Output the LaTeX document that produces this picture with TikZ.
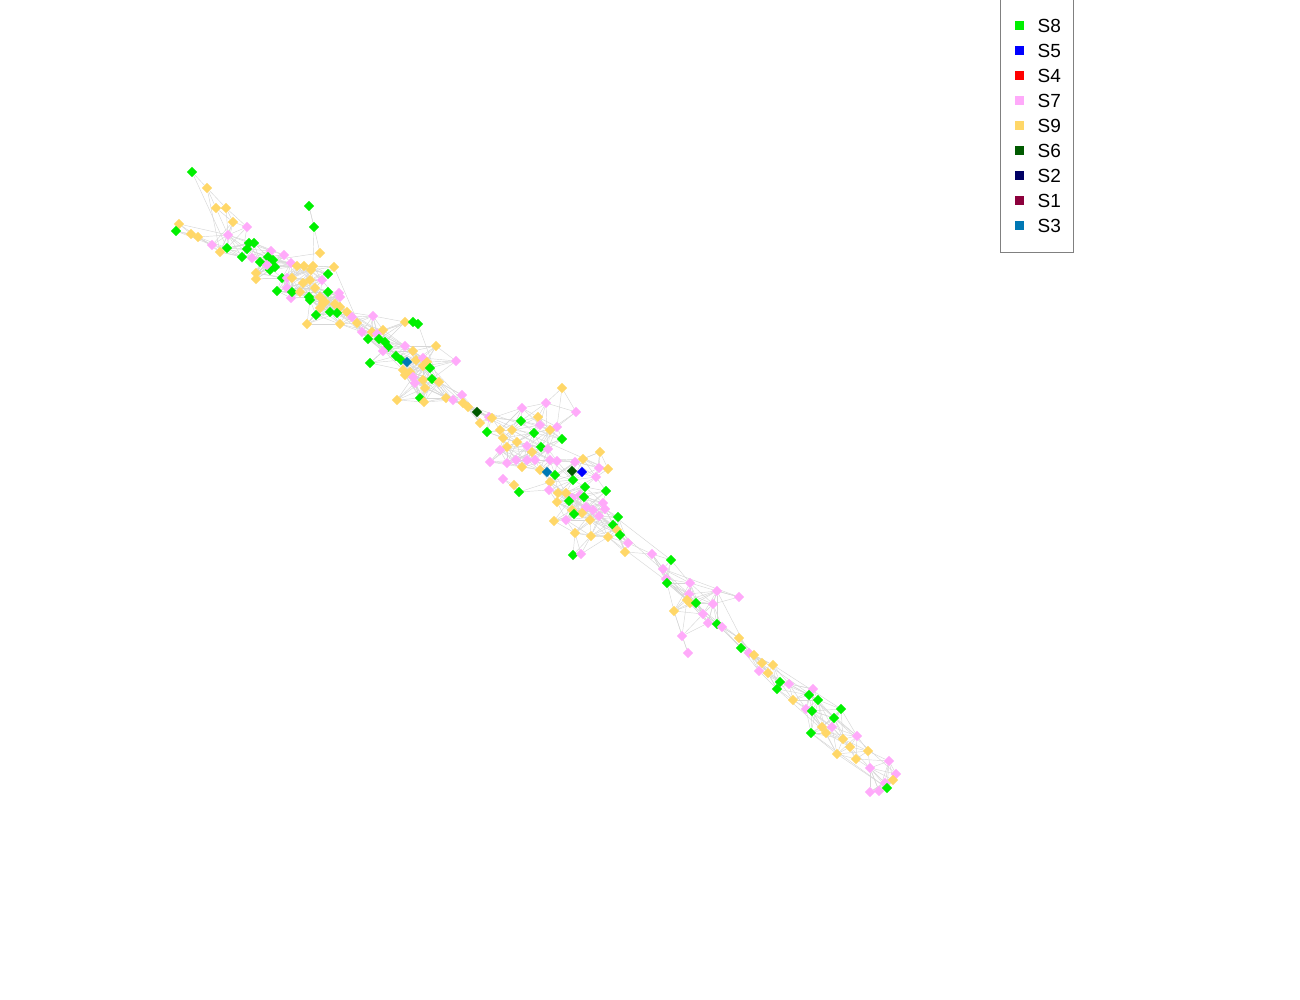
\documentclass[tikz,border=0pt]{standalone}
\usepackage{fontspec}
\setmainfont{Liberation Sans}
\usetikzlibrary{shapes.geometric,backgrounds}
\definecolor{cg}{RGB}{0,240,0}
\definecolor{cb}{RGB}{0,0,255}
\definecolor{cr}{RGB}{255,0,0}
\definecolor{cp}{RGB}{255,170,250}
\definecolor{cy}{RGB}{255,215,104}
\definecolor{cd}{RGB}{0,90,0}
\definecolor{cn}{RGB}{0,0,100}
\definecolor{cm}{RGB}{140,0,60}
\definecolor{ct}{RGB}{0,120,180}
\definecolor{edgec}{RGB}{214,214,214}
\tikzset{
  dot/.style={shape=diamond,inner sep=0pt,minimum width=10.5pt,minimum height=10.5pt,draw=none},
  edge/.style={draw=edgec,line width=0.45pt},
  legsq/.style={inner sep=0pt,minimum size=9pt},
  legtx/.style={anchor=west,inner sep=0pt,font=\fontsize{19}{21}\selectfont}
}
\begin{document}
\begin{tikzpicture}[x=1pt,y=-1pt]
\useasboundingbox (0,0) rectangle (1300,1000);
\def\pts{192/172/g, 207/188/y, 216/208/y, 226/208/y, 233/222/y, 247/227/p, 179/224/y, 176/231/g, 191/234/y, 198/237/y,
228/235/p, 212/245/p, 220/252/y, 227/248/g, 242/257/g, 249/243/g, 254/243/g, 247/249/g, 252/258/p, 309/206/g,
314/227/g, 320/253/y, 271/251/p, 284/255/p, 260/262/g, 268/257/g, 273/260/g, 275/267/g, 270/270/g, 267/265/p,
256/273/y, 256/279/y, 291/263/p, 297/266/y, 304/266/y, 313/266/y, 334/267/y, 328/274/g, 282/278/g, 287/278/p,
292/278/y, 311/270/y, 310/280/y, 322/280/p, 277/291/g, 287/288/p, 291/298/p, 292/292/g, 300/292/y, 303/283/y,
315/288/y, 309/297/g, 320/297/y, 328/292/g, 339/293/p, 340/297/p, 325/302/y, 335/304/y, 340/307/y, 320/308/y,
310/300/g, 323/303/y, 316/315/g, 330/312/g, 337/313/g, 347/312/y, 352/317/p, 307/324/y, 340/324/y, 357/323/y,
373/316/p, 405/322/y, 413/322/g, 418/324/g, 362/332/p, 372/332/y, 383/330/y, 377/334/p, 368/339/g, 379/339/g,
385/342/g, 388/347/g, 383/351/p, 405/346/p, 413/351/y, 436/346/y, 396/356/g, 401/360/g, 416/360/y, 423/358/p,
370/363/g, 456/361/p, 427/362/y, 423/366/y, 403/370/y, 410/372/y, 405/375/y, 430/368/g, 413/377/p, 423/380/y,
432/379/g, 415/383/p, 439/382/y, 425/388/y, 420/398/g, 424/402/y, 397/400/y, 446/398/y, 462/395/p, 453/400/p,
463/403/y, 468/407/y, 477/412/d, 480/423/y, 489/417/p, 492/418/y, 522/408/p, 546/403/p, 562/388/y, 576/412/p,
538/417/y, 521/421/g, 540/425/p, 487/432/g, 500/430/y, 512/430/y, 503/438/y, 534/433/g, 557/427/p, 550/430/y,
562/439/g, 517/442/y, 541/447/g, 507/447/y, 500/450/p, 527/446/p, 532/452/y, 548/449/p, 490/462/p, 522/467/y,
507/463/p, 516/460/p, 527/460/p, 535/460/p, 550/460/p, 557/461/p, 540/470/y, 583/459/y, 575/462/p, 600/452/y,
599/468/p, 608/469/y, 555/475/g, 573/480/g, 596/477/p, 550/482/y, 503/479/p, 514/485/y, 519/492/g, 549/490/p,
558/493/y, 566/493/y, 585/487/g, 606/491/g, 572/498/p, 580/495/p, 584/497/g, 557/502/y, 569/501/g, 586/507/p,
603/503/p, 572/510/y, 582/513/y, 574/514/g, 593/510/p, 605/509/p, 566/520/p, 554/521/y, 590/520/y, 599/516/p,
618/517/g, 613/525/g, 617/530/y, 575/533/y, 591/536/y, 620/535/g, 608/537/y, 573/555/g, 581/554/p, 628/543/p,
625/552/y, 652/554/p, 671/560/g, 663/569/p, 666/579/p, 667/583/g, 690/583/p, 689/594/p, 687/600/y, 690/603/y,
696/603/g, 713/604/p, 717/591/p, 739/597/p, 674/611/y, 703/614/p, 708/623/p, 717/624/g, 722/627/p, 682/636/p,
688/653/p, 739/638/y, 741/648/g, 749/653/p, 754/655/y, 762/663/y, 773/665/y, 759/671/p, 768/673/y, 780/682/g,
777/689/g, 789/684/p, 793/700/y, 813/689/p, 809/695/g, 818/700/g, 806/709/p, 812/711/g, 841/709/g, 834/718/g,
832/727/p, 822/727/y, 826/733/y, 811/733/g, 843/739/y, 857/736/p, 850/747/y, 837/754/y, 868/751/y, 856/759/y,
870/768/p, 889/761/p, 896/774/p, 893/780/y, 885/783/p, 887/788/g, 879/791/p, 870/792/p}
% nodes
\foreach \x/\y/\c [count=\i] in \pts {
  \node[dot,fill=c\c] (n\i) at (\x,\y) {};
  \expandafter\xdef\csname px\i\endcsname{\x}
  \expandafter\xdef\csname py\i\endcsname{\y}
  \xdef\N{\i}
}
% special nodes drawn on top
\node[dot,fill=ct] (s3a) at (407,362) {};
\node[dot,fill=ct] (s3b) at (547,472) {};
\node[dot,fill=cd] (s6a) at (572,471) {};
\node[dot,fill=cb] (s5a) at (582,472) {};
% connectors
\begin{pgfonlayer}{background}
\foreach \i in {1,...,\N} {
  \foreach \k in {1,...,9} {
    \pgfmathtruncatemacro\j{\i+\k}
    \ifnum\j>\N\relax\else
      \pgfmathsetmacro\dd{veclen((\csname px\i\endcsname-\csname px\j\endcsname)/10,(\csname py\i\endcsname-\csname py\j\endcsname)/10)}
      \ifdim\dd pt<3.4pt
        \draw[edge] (n\i) -- (n\j);
      \fi
    \fi
  }
}
\draw[edge] (s3a) -- (n89) (s3a) -- (n96) (s3b) -- (n153) (s6a) -- (n155) (s5a) -- (n156) (s5a) -- (n161);
% long bundle connectors and outlier spokes
\foreach \a/\b in {37/75, 44/79, 53/83, 59/85, 66/93, 70/95, 74/103, 84/108, 90/112, 97/113, 104/116,
  110/131, 113/138, 116/152, 118/160, 165/190, 176/193, 182/198, 187/201, 194/204, 199/210, 203/214, 196/212,
  208/219, 215/226, 217/229, 221/233, 225/236, 230/243, 234/246, 241/247, 238/246,
  1/14, 2/13, 20/21, 21/36, 22/27, 7/11, 8/12, 119/129, 120/130, 117/125, 192/199, 204/203, 211/205} {
  \draw[edge] (n\a) -- (n\b);
}
\end{pgfonlayer}
% legend
\node[draw=gray,line width=0.8pt,minimum width=73pt,minimum height=253pt,anchor=north west,inner sep=0pt] (leg) at (1000,-1) {};
\foreach \c/\t [count=\r] in {g/S8, b/S5, r/S4, p/S7, y/S9, d/S6, n/S2, m/S1, t/S3} {
  \node[legsq,fill=c\c] (ls\r) at (1019,{25.1*\r}) {};
  \node[legtx] (lt\r) at (1037.5,{25.1*\r+0.5}) {\t};
}
\end{tikzpicture}
\end{document}
